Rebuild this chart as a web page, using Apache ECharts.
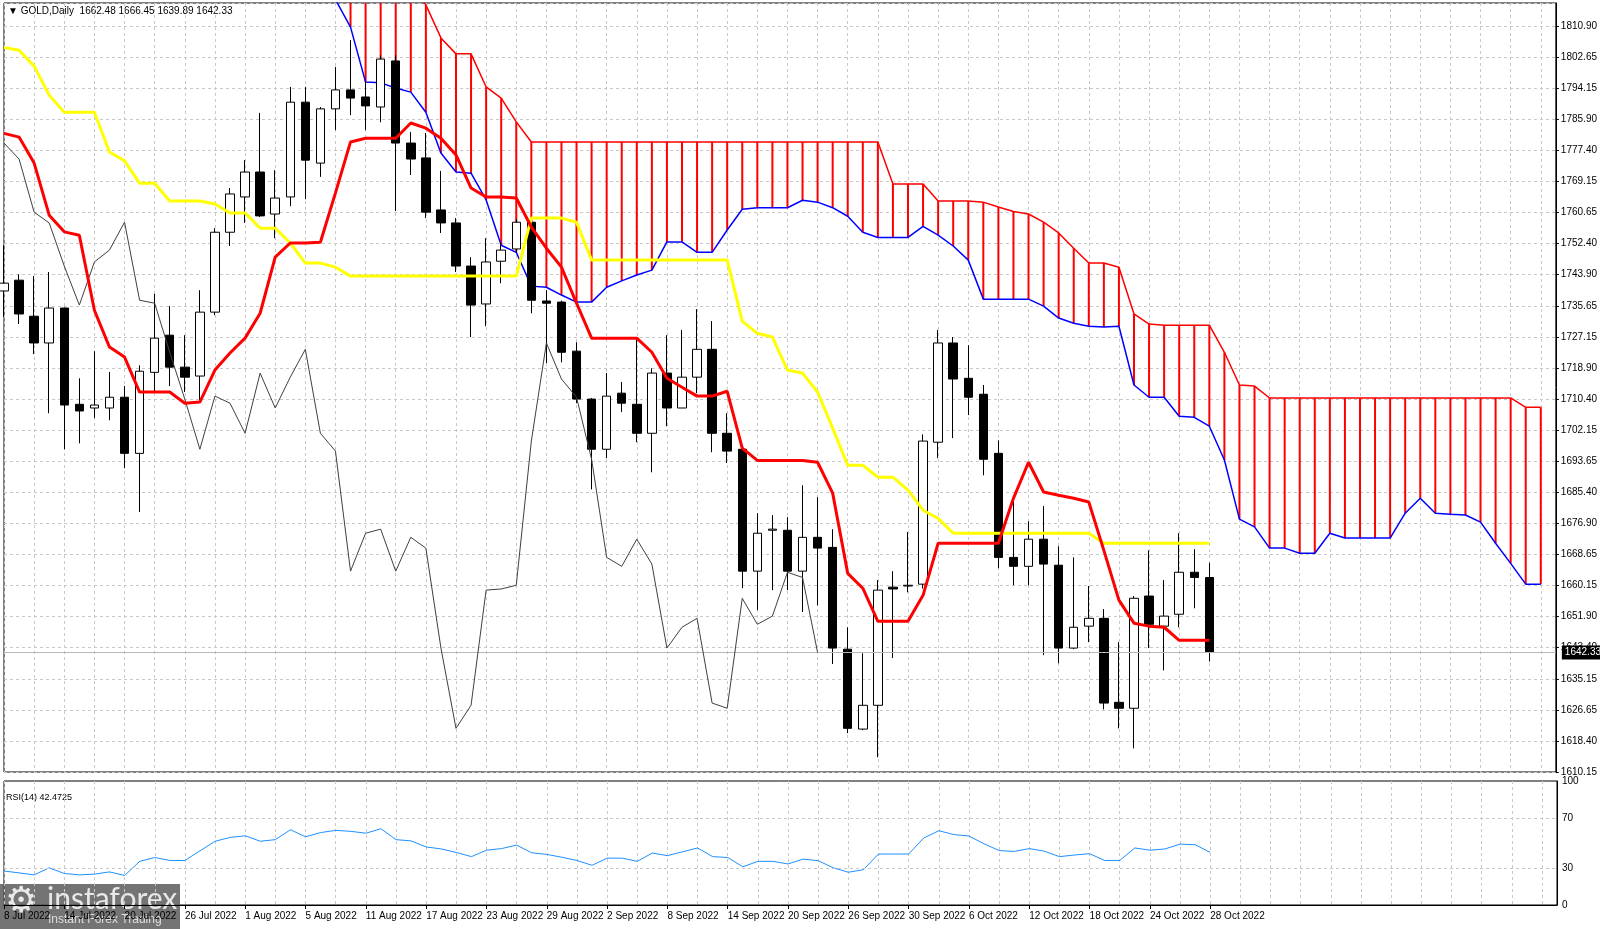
<!DOCTYPE html>
<html><head><meta charset="utf-8">
<script src="https://cdn.jsdelivr.net/npm/echarts/dist/echarts.min.js"></script>
<style>html,body{margin:0;padding:0;background:#fff}#c{width:1600px;height:929px}</style>
</head><body><div id="c"></div>
<script>
const dates = ['8 Jul 2022','11 Jul 2022','12 Jul 2022','13 Jul 2022','14 Jul 2022','15 Jul 2022','18 Jul 2022','19 Jul 2022','20 Jul 2022','21 Jul 2022','22 Jul 2022','25 Jul 2022','26 Jul 2022','27 Jul 2022','28 Jul 2022','29 Jul 2022',
'1 Aug 2022','2 Aug 2022','3 Aug 2022','4 Aug 2022','5 Aug 2022','8 Aug 2022','9 Aug 2022','10 Aug 2022','11 Aug 2022','12 Aug 2022','15 Aug 2022','16 Aug 2022','17 Aug 2022','18 Aug 2022','19 Aug 2022','22 Aug 2022','23 Aug 2022','24 Aug 2022','25 Aug 2022','26 Aug 2022','29 Aug 2022','30 Aug 2022','31 Aug 2022',
'1 Sep 2022','2 Sep 2022','5 Sep 2022','6 Sep 2022','7 Sep 2022','8 Sep 2022','9 Sep 2022','12 Sep 2022','13 Sep 2022','14 Sep 2022','15 Sep 2022','16 Sep 2022','19 Sep 2022','20 Sep 2022','21 Sep 2022','22 Sep 2022','23 Sep 2022','26 Sep 2022','27 Sep 2022','28 Sep 2022','29 Sep 2022','30 Sep 2022',
'3 Oct 2022','4 Oct 2022','5 Oct 2022','6 Oct 2022','7 Oct 2022','10 Oct 2022','11 Oct 2022','12 Oct 2022','13 Oct 2022','14 Oct 2022','17 Oct 2022','18 Oct 2022','19 Oct 2022','20 Oct 2022','21 Oct 2022','24 Oct 2022','25 Oct 2022','26 Oct 2022','27 Oct 2022','28 Oct 2022'];
const futureSlots = 23;
// [open, close, low, high]
const ohlc = [
[1739.6,1741.7,1732.6,1751.9],[1742.5,1733.4,1730.7,1744.1],[1732.8,1725.6,1722.6,1743.6],[1725.6,1735.0,1706.7,1744.7],[1735.0,1708.9,1697.0,1735.2],
[1709.1,1707.3,1698.6,1716.1],[1708.1,1708.9,1705.4,1723.4],[1708.1,1711.0,1704.8,1717.8],[1711.0,1695.9,1691.9,1714.0],[1695.9,1718.0,1680.1,1719.6],
[1717.7,1726.9,1712.4,1738.8],[1727.7,1719.1,1714.0,1735.5],[1719.1,1716.4,1712.4,1727.7],[1716.7,1733.9,1710.2,1739.8],[1733.9,1755.4,1733.1,1756.5],
[1755.4,1765.7,1751.7,1767.3],[1764.9,1771.6,1757.9,1774.8],[1771.6,1759.8,1759.5,1787.5],[1760.3,1764.6,1753.8,1772.1],[1764.9,1790.4,1762.4,1794.5],
[1790.4,1774.8,1764.3,1794.5],[1774.0,1788.6,1770.3,1789.1],[1788.6,1793.7,1782.9,1799.9],[1793.7,1791.5,1786.9,1807.1],[1791.8,1789.4,1782.9,1795.8],
[1789.1,1802.0,1785.0,1803.0],[1801.5,1779.4,1761.1,1803.0],[1779.4,1775.1,1770.8,1782.4],[1775.4,1760.8,1759.2,1782.1],[1761.4,1757.9,1755.2,1771.9],
[1757.9,1746.3,1744.7,1759.2],[1746.3,1735.8,1727.2,1748.7],[1736.1,1747.4,1730.1,1753.8],[1747.6,1750.6,1741.7,1752.5],[1750.9,1758.1,1750.0,1759.0],
[1758.1,1737.1,1733.6,1759.5],[1736.9,1736.3,1720.2,1739.8],[1736.6,1723.1,1720.4,1737.0],[1723.4,1710.5,1709.4,1725.8],[1710.5,1697.0,1686.2,1710.8],
[1697.0,1711.3,1694.6,1717.5],[1712.1,1709.4,1707.0,1715.1],[1709.1,1701.3,1698.9,1726.9],[1701.3,1717.5,1690.8,1718.8],[1717.5,1708.1,1703.2,1727.7],
[1708.1,1716.4,1708.1,1729.1],[1716.4,1723.9,1712.1,1734.7],[1723.9,1701.3,1696.2,1731.5],[1701.3,1696.5,1693.3,1706.7],[1697.0,1664.2,1659.6,1697.5],
[1664.2,1674.4,1653.7,1679.8],[1675.2,1675.5,1659.1,1679.3],[1675.2,1664.2,1659.1,1678.7],[1664.2,1673.3,1653.2,1687.3],[1673.3,1670.4,1655.0,1684.1],
[1670.6,1643.5,1639.2,1675.5],[1643.2,1621.9,1620.6,1649.1],[1621.7,1628.1,1621.4,1642.1],[1628.1,1659.1,1614.1,1661.8],[1659.9,1659.4,1640.8,1664.2],
[1660.2,1660.4,1658.5,1674.7],[1660.7,1699.2,1659.5,1701.0],[1698.9,1725.6,1694.6,1729.1],[1725.6,1715.9,1700.0,1727.2],[1716.1,1711.0,1706.2,1725.0],
[1711.8,1694.3,1690.0,1714.3],[1695.9,1667.9,1665.0,1699.4],[1667.9,1665.5,1660.4,1683.8],[1665.5,1672.8,1660.4,1677.6],[1672.8,1666.1,1641.6,1681.7],
[1665.8,1643.5,1639.4,1670.9],[1643.5,1649.1,1643.2,1667.9],[1649.4,1651.5,1645.1,1660.2],[1651.5,1628.7,1627.0,1654.0],[1628.9,1627.3,1621.9,1645.1],
[1627.3,1656.9,1616.5,1657.5],[1657.5,1649.9,1643.5,1669.8],[1649.4,1652.1,1637.5,1661.8],[1652.6,1663.9,1649.1,1674.4],[1663.9,1662.5,1654.2,1670.1],
[1662.48,1642.33,1639.89,1666.45]];
const tenkan = [1782,1781,1774,1760,1755.5,1754.6,1734.4,1724.5,1721.8,1712.4,
1712.4,1712.4,1709.4,1709.7,1718.3,1722.9,1726.9,1733.6,1748.7,1752.5,
1752.5,1752.7,1766,1779.7,1780.7,1780.7,1780.7,1784.8,1783.4,1780.7,
1776.2,1767.3,1764.9,1764.9,1764.6,1756.8,1751.1,1746,1736.3,1726.9,
1726.9,1726.9,1726.9,1723.1,1716.1,1713.7,1711.3,1711.3,1712.6,1697.3,
1694,1694,1694,1694,1693.5,1685.2,1663.6,1659.6,1650.7,1650.7,
1650.7,1657.7,1671.7,1671.7,1671.7,1671.7,1671.7,1683.8,1693.5,1685.5,
1684.6,1683.8,1682.8,1669.8,1656.4,1650.2,1649.4,1649.1,1645.6,1645.6,1645.6];
const kijun = [1805.1,1804.4,1800.1,1792.3,1787.7,1787.7,1787.7,1777,1774.6,1768.6,
1768.6,1763.8,1763.8,1763.8,1763,1760.6,1760.6,1756.5,1756.5,1752.5,
1747.1,1747.1,1746,1743.6,1743.6,1743.6,1743.6,1743.6,1743.6,1743.6,1743.6,1743.6,1743.6,1743.6,1743.6,
1759.2,1759.2,1759.2,1758.1,1747.9,1747.9,1747.9,1747.9,1747.9,1747.9,1747.9,1747.9,1747.9,1747.9,
1731.5,1728.2,1727.2,1718.3,1717.5,1712.4,1702.7,1692.7,1692.7,1689.5,1689.5,1686,1680.6,1678.4,
1674.4,1674.4,1674.4,1674.4,1674.4,1674.4,1674.4,1674.4,1674.4,1674.4,
1671.7,1671.7,1671.7,1671.7,1671.7,1671.7,1671.7,1671.7];
const cloudStart = 22;
const spanRed = [1850,1845,1840,1835,1828,1822,1816.6,1807.7,1803.4,1803.4,1794.5,1791.5,1785.1,
1779.7,1779.7,1779.7,1779.7,1779.7,1779.7,1779.7,1779.7,1779.7,1779.7,1779.7,1779.7,1779.7,1779.7,1779.7,1779.7,1779.7,1779.7,1779.7,1779.7,1779.7,1779.7,1779.7,1779.7,
1768.4,1768.4,1768.4,1763.8,1763.8,1763.8,1763.5,1762.2,1761,1760.3,1758.1,1755.2,1751.1,1747.1,1747.1,1746.0,
1733.4,1730.7,1730.4,1730.4,1730.4,1730.4,1723.1,1714.3,1714,
1710.8,1710.8,1710.8,1710.8,1710.8,1710.8,1710.8,1710.8,1710.8,1710.8,1710.8,1710.8,1710.8,1710.8,1710.8,1710.8,1710.8,
1708.3,1708.3];
const spanBlue = [1818,1810.6,1795.8,1795.6,1794.2,1793.1,1787.7,1776.7,1771.6,1771.3,1764.1,1751.9,1750,
1740.9,1740.6,1738.5,1736.6,1736.6,1740.6,1742.3,1743.9,1745.2,1752.8,
1752.8,1750,1750,1756,1761.6,1762,1762,1762,1764,1763.5,
1762,1759.7,1755.4,1754,1754,1754,1757,1754.6,1751.7,1747.9,
1737.4,1737.4,1737.4,1737.4,1735.5,1732.3,1730.9,1730.1,1729.9,1730.1,
1714.3,1711,1711,1705.9,1705.6,1703.2,1694.1,1678.2,1676.1,1670.4,
1670.4,1669,1669,1674.4,1673.1,1673.1,1673.1,1673.1,1679.8,1683.8,
1679.8,1679.5,1679.3,1677.4,1671.7,1666.3,1660.7,1660.7];
const rsi = [27.4,25.9,24.3,30,25.4,24.3,24.9,26.7,23.8,35.2,
38.3,35.9,35.9,43.7,51.4,54.5,55.8,51.4,52.7,60.7,
55,58.4,60.2,59.4,57.9,61.5,52.7,51.7,46.8,45.2,
42.4,39,44.2,45.5,48.3,42.1,40.8,38.5,35.9,32,
37.8,37.8,35.2,41.9,39.8,42.9,46,39,38.3,30.8,
35.2,35.2,33.1,37,35.7,30,26.4,28.5,41.1,41.1,
41.1,54,59.9,56.8,55.6,49.4,43.9,43.2,45.5,43.4,
39,40.3,41.4,35.9,35.9,46,44.2,45.2,49.1,48.6,42.47];
const yLabels = ['1610.15','1618.40','1626.65','1635.15','1643.40','1651.90','1660.15','1668.65','1676.90','1685.40','1693.65','1702.15','1710.40','1718.90','1727.15','1735.65','1743.90','1752.40','1760.65','1769.15','1777.40','1785.90','1794.15','1802.65','1810.90'];
const rsiLabels = [0,30,70,100];
const lastPrice = 1642.33;
const titleText = '\u25BC GOLD,Daily  1662.48 1666.45 1639.89 1642.33';
const rsiTitle = 'RSI(14) 42.4725';

const cats = dates.concat(new Array(futureSlots).fill(''));
const pad = n => new Array(n).fill(null);
const red = pad(cloudStart).concat(spanRed);
const blue = pad(cloudStart).concat(spanBlue);
const lower = red.map((v,i)=> v==null?null:Math.min(v,blue[i]));
const diff = red.map((v,i)=> v==null?null:Math.abs(v-blue[i]));
const closes = ohlc.map(d=>d[1]);
const chikou = closes.slice(26);
const yMin = 1610.15, yStep = (1810.90-1610.15)/24;
const yMax = yMin + 769*(1810.90-1610.15)/746;
const font = 'Liberation Sans';
const gridDash = {color:'#c8c8c8', type:[3,3], width:1};
const showDate = (i)=> i%4===0 && i<dates.length;

const chart = echarts.init(document.getElementById('c'));
chart.setOption({
  animation:false,
  backgroundColor:'#fff',
  textStyle:{fontFamily:font},
  grid:[
    {left:4, right:43, top:3, height:769, show:true, borderColor:'#000', borderWidth:1},
    {left:4, right:43, top:781, height:124, show:true, borderColor:'#000', borderWidth:1}
  ],
  xAxis:[
    {type:'category', gridIndex:0, data:cats, boundaryGap:false,
     axisLine:{show:false}, axisTick:{show:false}, axisLabel:{show:false},
     splitLine:{show:true, interval:(i)=>i%2===0, lineStyle:gridDash}},
    {type:'category', gridIndex:1, data:cats, boundaryGap:false,
     axisLine:{show:true, lineStyle:{color:'#000'}},
     axisTick:{show:true, interval:(i)=>showDate(i), length:4, lineStyle:{color:'#000'}},
     axisLabel:{show:true, interval:0, hideOverlap:false, align:'left', color:'#000', fontSize:10, margin:6, fontFamily:font,
       formatter:(v,i)=> showDate(i) ? v : ''},
     splitLine:{show:true, interval:(i)=>i%2===0, lineStyle:gridDash}}
  ],
  yAxis:[
    {type:'value', gridIndex:0, position:'right', min:yMin, max:yMax, interval:yStep, scale:true,
     axisLine:{show:true, lineStyle:{color:'#000'}}, axisTick:{show:true, length:3, lineStyle:{color:'#000'}},
     axisLabel:{color:'#000', fontSize:10, margin:5, showMaxLabel:false, fontFamily:font,
       formatter:(v)=>{const i=Math.round((v-yMin)/yStep); return yLabels[i]||'';}},
     splitLine:{show:true, lineStyle:gridDash}},
    {type:'value', gridIndex:1, position:'right', min:0, max:100, interval:10,
     axisLine:{show:true, lineStyle:{color:'#000'}}, axisTick:{show:false},
     axisLabel:{color:'#000', fontSize:10, margin:5, fontFamily:font,
       formatter:(v)=> rsiLabels.includes(Math.round(v)) ? String(Math.round(v)) : ''},
     splitLine:{show:false}}
  ],
  series:[
    {type:'bar', xAxisIndex:0, yAxisIndex:0, stack:'cloud', data:lower, barWidth:2, itemStyle:{color:'rgba(0,0,0,0)'}, silent:true},
    {type:'bar', xAxisIndex:0, yAxisIndex:0, stack:'cloud', data:diff, barWidth:2, itemStyle:{color:'#ff0000'}, silent:true},
    {type:'line', data:red, showSymbol:false, lineStyle:{color:'#ff0000', width:1.5}, z:3},
    {type:'line', data:blue, showSymbol:false, lineStyle:{color:'#0000ff', width:1.5}, z:3},
    {type:'candlestick', data:ohlc, barWidth:9, z:4,
     itemStyle:{color:'#ffffff', color0:'#000000', borderColor:'#000000', borderColor0:'#000000', borderWidth:1},
     markLine:{symbol:'none', silent:true, lineStyle:{color:'#b8b8b8', type:'solid', width:1},
       label:{position:'end', formatter:String(lastPrice), backgroundColor:'#000', color:'#fff', fontSize:10, fontFamily:font, padding:[2,3], distance:6},
       data:[{yAxis:lastPrice}]}},
    {type:'line', data:chikou, showSymbol:false, lineStyle:{color:'#404040', width:1}, z:5},
    {type:'line', data:kijun, showSymbol:false, lineStyle:{color:'#ffff00', width:3}, z:6},
    {type:'line', data:tenkan, showSymbol:false, lineStyle:{color:'#ff0000', width:3}, z:7},
    {type:'line', xAxisIndex:1, yAxisIndex:1, data:rsi, showSymbol:false, lineStyle:{color:'#1e90ff', width:1},
     markLine:{symbol:'none', silent:true, label:{show:false}, lineStyle:{color:'#c8c8c8', type:[3,3], width:1},
       data:[{yAxis:70},{yAxis:30}]}}
  ],
  graphic:[
    {type:'text', left:8, top:6, style:{text:titleText, font:'10px Liberation Sans', fill:'#000'}},
    {type:'text', left:6, top:793, style:{text:rsiTitle, font:'9px Liberation Sans', fill:'#000'}},
    {type:'group', left:0, top:884, children:[
      {type:'rect', shape:{x:0,y:0,width:180,height:45}, style:{fill:'rgba(85,85,85,0.82)'}},
      {type:'text', x:5, y:1, style:{text:'\u2699', font:'36px DejaVu Sans', fill:'#e8e8e8'}},
      {type:'text', x:47, y:0, style:{text:'instaforex', font:'30px Lato', fill:'#e8e8e8'}},
      {type:'text', x:48, y:30, style:{text:'Instant Forex Trading', font:'12px Liberation Sans', fill:'#dddddd'}}
    ]}
  ]
});
</script></body></html>
